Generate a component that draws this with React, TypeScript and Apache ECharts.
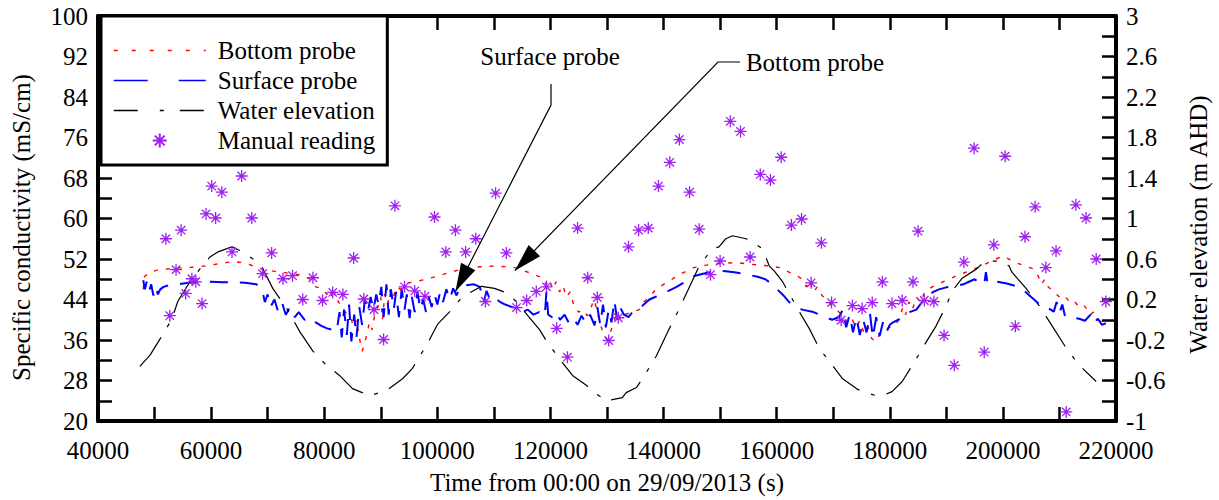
import React, { useEffect, useRef } from "react";
import * as echarts from "echarts";

const FONT = "Liberation Serif";

// Axis ranges / tick labelling
const xRange = [40000, 220000];
const xTickStep = 10000;
const xLabelStep = 20000;
const yLeftRange = [20, 100];
const yLeftTickStep = 4;
const yLeftLabelStep = 8;
const yRightRange = [-1, 3];
const yRightTickStep = 0.2;

const xTitle = "Time from 00:00 on 29/09/2013 (s)";
const yLeftTitle = "Specific conductivity (mS/cm)";
const yRightTitle = "Water elevation (m AHD)";

// [time (s), conductivity mS/cm]
const bottomProbe: [number, number][] = [
  [48000, 46.0], [48200, 48.5], [49000, 49.3], [50500, 49.8], [52000, 50.0], [54000, 50.2],
  [56000, 50.3], [58000, 50.5], [60000, 50.8], [62000, 51.2], [64000, 51.5], [66000, 51.2],
  [67500, 50.6], [69000, 50.0], [71000, 49.6], [73000, 49.3], [75000, 49.0], [76500, 48.6],
  [77500, 48.0], [78500, 46.5], [79500, 46.2], [80500, 45.0], [81000, 46.0], [81500, 44.0],
  [82000, 45.5], [82500, 43.5], [83200, 42.5], [84000, 41.0], [84700, 40.5], [85200, 38.5],
  [85700, 40.0], [86200, 36.5], [86700, 33.8], [87100, 35.0], [87500, 37.0], [88000, 39.5],
  [88500, 38.0], [89000, 41.5], [89500, 42.5], [90000, 44.5], [90300, 40.0], [90700, 45.0],
  [91200, 43.0], [91700, 46.0], [92200, 44.5], [92800, 46.5], [93500, 46.0], [94500, 47.2],
  [96000, 47.5], [98000, 48.0], [100000, 48.6], [102000, 49.3], [104000, 49.9], [106000, 50.3],
  [108000, 50.5], [110000, 50.6], [112000, 50.5], [113700, 50.3], [115500, 49.6], [117000, 49.0],
  [118500, 48.3], [119200, 47.0], [119800, 48.0], [120400, 46.0], [121000, 47.5], [121600, 45.5],
  [122200, 46.8], [122800, 44.5], [123500, 45.5], [124200, 42.5], [125000, 41.5], [125800, 42.0],
  [126500, 40.8], [127200, 42.5], [127700, 44.0], [128200, 42.0], [128700, 39.5], [129300, 37.5],
  [130000, 36.0], [130600, 37.5], [131200, 39.5], [131800, 41.5], [132400, 40.0], [133000, 41.0],
  [134500, 41.5], [135700, 42.0], [136500, 43.5], [137500, 44.5], [138500, 45.8], [140000, 47.0],
  [141500, 48.0], [143000, 49.0], [145000, 50.2], [147000, 50.7], [149000, 51.0], [151000, 51.2],
  [153000, 51.3], [155000, 51.0], [157000, 50.8], [159000, 50.6], [160500, 50.3], [162000, 49.5],
  [163500, 48.8], [164500, 48.0], [165200, 46.5], [165800, 47.8], [166500, 45.5], [167200, 46.5],
  [168000, 44.8], [168800, 44.0], [169500, 43.0], [170300, 42.5], [171000, 41.5], [171800, 40.8],
  [172500, 39.5], [173200, 40.5], [174000, 38.5], [174700, 39.8], [175400, 37.5], [176100, 38.8],
  [176800, 36.3], [177500, 35.7], [178200, 37.0], [179000, 38.0], [180000, 38.5], [181000, 38.9],
  [181800, 40.5], [182300, 42.5], [182800, 41.0], [183400, 43.5], [184000, 42.0], [184700, 44.5],
  [185400, 43.5], [186200, 45.5], [187500, 46.5], [189000, 47.3], [190500, 48.0], [192000, 48.8],
  [194000, 49.6], [196000, 50.5], [198000, 51.6], [200000, 52.6], [201000, 52.0], [202500, 51.2],
  [204000, 50.6], [205500, 50.0], [206300, 48.5], [206800, 47.0], [207400, 48.0], [208000, 46.5],
  [208700, 45.8], [209500, 45.0], [210300, 44.2], [211000, 44.6], [211800, 43.5], [212500, 43.8],
  [213300, 42.8], [214000, 43.2], [214800, 42.2], [215400, 41.0], [216000, 41.5], [216800, 40.0],
  [217500, 39.6],
];

const surfaceProbe: [number, number][] = [
  [48000, 47.8], [48300, 46.0], [48600, 47.5], [49000, 45.5], [49400, 47.0], [49800, 44.8],
  [50200, 46.5], [50600, 45.0], [51000, 46.0], [51600, 46.5], [52500, 46.8], [54000, 47.0],
  [56000, 47.3], [58000, 47.5], [60000, 47.5], [62000, 47.4], [64000, 47.4], [66000, 47.3],
  [68000, 47.0], [69000, 46.0], [69500, 43.5], [70000, 45.0], [70500, 42.5], [71200, 44.0],
  [71800, 41.8], [72500, 43.5], [73200, 41.0], [74000, 42.5], [74800, 40.5], [75500, 41.5],
  [76500, 40.0], [77500, 40.5], [78500, 39.5], [79500, 38.8], [80500, 38.3], [81500, 38.0],
  [82200, 37.7], [82700, 41.5], [83100, 36.5], [83500, 42.0], [84000, 37.0], [84400, 43.0],
  [84800, 35.7], [85300, 41.0], [85700, 36.5], [86200, 42.5], [86700, 39.0], [87200, 44.0],
  [87700, 41.5], [88200, 44.5], [88700, 42.0], [89200, 45.0], [89600, 43.0], [90100, 46.5],
  [90500, 40.5], [91000, 47.0], [91400, 41.0], [91800, 46.0], [92300, 42.0], [92700, 45.5],
  [93200, 40.5], [93700, 46.0], [94200, 42.0], [94600, 45.0], [95100, 40.3], [95500, 44.5],
  [96000, 41.5], [96500, 45.5], [97000, 42.0], [97500, 44.0], [98000, 41.5], [98500, 44.5],
  [99000, 42.5], [99500, 45.0], [100000, 43.0], [100500, 45.5], [101000, 43.5], [101600, 46.0],
  [102200, 44.0], [102800, 46.2], [103400, 44.8], [104000, 46.5], [105000, 46.8], [106500, 47.0],
  [107500, 46.5], [108200, 43.5], [108700, 45.7], [109300, 44.0], [110000, 44.5], [111000, 43.6],
  [112000, 43.0], [113000, 42.6], [114000, 42.2], [115000, 41.5], [116000, 42.0], [117000, 41.0],
  [118000, 41.5], [119000, 40.8], [119300, 45.7], [119600, 41.0], [120300, 40.5], [121000, 41.5],
  [121700, 40.0], [122500, 41.0], [123200, 39.5], [124000, 40.5], [124800, 39.0], [125500, 40.8],
  [126300, 39.3], [127000, 41.0], [127800, 38.9], [128300, 42.5], [128800, 39.0], [129300, 43.0],
  [129800, 38.5], [130300, 42.0], [130800, 39.5], [131300, 43.8], [131800, 40.0], [132300, 42.5],
  [133000, 41.0], [133800, 40.5], [134500, 41.5], [135500, 42.0], [136500, 43.0], [137500, 44.0],
  [138500, 44.5], [139300, 44.8], [140500, 45.5], [142300, 46.5], [143500, 47.3], [145000, 48.5],
  [147000, 49.1], [149300, 49.7], [151000, 49.6], [152500, 49.4], [154500, 49.0], [156600, 48.5],
  [158000, 48.0], [159000, 47.2], [160100, 46.0], [161200, 44.8], [162200, 43.5], [163500, 42.5],
  [164500, 42.0], [166300, 41.6], [168000, 40.8], [169800, 40.0], [171000, 40.5], [171700, 42.0],
  [172300, 38.5], [172900, 41.0], [173500, 37.5], [174100, 40.5], [174700, 37.0], [175300, 40.0],
  [175900, 37.5], [176500, 41.2], [177000, 36.5], [177600, 40.5], [178200, 36.8], [178800, 39.5],
  [179400, 37.5], [180000, 39.0], [180600, 39.5], [181500, 40.0], [182500, 40.5], [183500, 41.5],
  [184700, 42.0], [185700, 43.5], [186700, 44.8], [187700, 45.5], [188700, 46.0], [190000, 46.4],
  [191700, 46.7], [193000, 47.0], [194000, 47.5], [195000, 48.0], [196000, 47.2], [196700, 47.0],
  [197000, 49.4], [197300, 47.2], [198000, 47.3], [199000, 47.5], [200500, 47.2], [201800, 46.8],
  [202900, 46.5], [204000, 45.5], [205000, 44.5], [206000, 43.5], [207000, 42.6], [208000, 42.3],
  [209000, 41.6], [209500, 43.5], [210000, 41.3], [210500, 43.0], [211000, 40.6], [212000, 40.5],
  [213500, 40.2], [214500, 39.8], [215500, 41.0], [216000, 39.3], [216800, 40.2], [217500, 39.0],
  [218200, 39.3],
];

// [time (s), water elevation m AHD]
const waterElevation: [number, number][] = [
  [47400, -0.46], [49200, -0.35], [51300, -0.16], [53100, 0.01], [54100, 0.18], [56300, 0.38],
  [58000, 0.5], [59800, 0.62], [61200, 0.67], [63700, 0.72], [65600, 0.67], [67400, 0.6],
  [69000, 0.52], [70900, 0.31], [73400, 0.11], [75700, -0.12], [78000, -0.31], [80400, -0.45],
  [82700, -0.55], [85000, -0.68], [88000, -0.75], [91000, -0.7], [93900, -0.58], [95600, -0.48],
  [98100, -0.25], [100100, -0.04], [102200, 0.08], [104500, 0.23], [107800, 0.33], [110100, 0.31],
  [112000, 0.27], [114000, 0.18], [116000, 0.04], [118100, -0.1], [119300, -0.21], [121500, -0.38],
  [123900, -0.55], [126400, -0.65], [127800, -0.72], [129900, -0.8], [132700, -0.77], [133400, -0.72],
  [135200, -0.67], [136300, -0.58], [138700, -0.36], [141000, -0.09], [142800, 0.11], [144200, 0.28],
  [146300, 0.53], [148600, 0.7], [149800, 0.72], [151000, 0.8], [152200, 0.83], [154600, 0.8],
  [155700, 0.77], [157500, 0.7], [158700, 0.53], [159600, 0.48], [161000, 0.38], [164000, 0.08],
  [165800, -0.09], [167500, -0.28], [169300, -0.41], [171600, -0.58], [174100, -0.68], [175100, -0.71],
  [177600, -0.75], [178700, -0.75], [180400, -0.71], [182200, -0.61], [184000, -0.45], [186100, -0.25],
  [188200, -0.06], [190000, 0.14], [191000, 0.28], [192800, 0.41], [195300, 0.5], [196300, 0.55],
  [198100, 0.58], [199500, 0.58], [201100, 0.53], [201600, 0.47], [204100, 0.31], [206400, 0.14],
  [208700, -0.06], [211200, -0.28], [213500, -0.45], [216500, -0.61],
];

// [time (s), conductivity mS/cm]
const manualReading: [number, number][] = [
  [52000, 56.0], [52700, 40.8], [53800, 49.9], [54700, 57.7], [55500, 45.2], [56600, 48.1],
  [57300, 47.5], [58400, 43.2], [59100, 60.9], [60100, 66.4], [60800, 60.1], [61900, 65.2],
  [63700, 53.4], [65400, 68.4], [67200, 60.1], [69100, 49.1], [70700, 53.2], [72700, 48.1],
  [74400, 48.7], [76200, 44.0], [78000, 48.3], [79700, 43.8], [81500, 45.4], [83300, 45.0],
  [85200, 52.2], [87000, 44.1], [88800, 42.0], [90500, 36.1], [92500, 62.5], [94200, 46.5],
  [96000, 45.7], [97800, 44.6], [99500, 60.3], [101500, 53.4], [103200, 57.7], [105000, 53.4],
  [106800, 56.0], [108500, 43.6], [110300, 65.0], [112200, 53.2], [114000, 42.4], [115800, 43.8],
  [117500, 45.6], [119300, 46.5], [121100, 38.3], [123000, 32.6], [124800, 58.1], [126600, 48.3],
  [128300, 44.4], [130300, 35.9], [132000, 40.4], [133800, 54.4], [135600, 57.7], [137300, 58.1],
  [139100, 66.4], [141100, 71.1], [142800, 75.6], [144600, 65.2], [146300, 57.9], [148300, 48.9],
  [150000, 51.6], [151800, 79.2], [153600, 77.2], [155300, 52.4], [157100, 68.7], [158900, 67.6],
  [160800, 72.1], [162600, 58.7], [164400, 59.9], [166100, 47.3], [167900, 55.2], [169700, 43.4],
  [171400, 39.9], [173400, 42.8], [175100, 42.2], [176900, 43.4], [178700, 47.5], [180400, 43.2],
  [182200, 43.8], [184100, 47.5], [185000, 57.5], [186100, 43.8], [187800, 43.6], [189600, 36.9],
  [191400, 31.0], [193100, 51.4], [194900, 73.9], [196700, 33.6], [198400, 54.8], [200400, 72.3],
  [202200, 38.7], [203900, 56.4], [205700, 62.3], [207600, 50.3], [209400, 53.6], [211200, 21.8],
  [212900, 62.7], [214700, 60.1], [216500, 52.0], [218200, 43.6],
];

// Callout labels pointing at data locations [time, conductivity]
const calloutLabels = ["Surface probe", "Bottom probe"];
const calloutTips: [number, number][] = [
  [103200, 45.6],
  [113700, 49.7],
];

const STAR = "path://M5,0L5,10M0,5L10,5M1.5,1.5L8.5,8.5M1.5,8.5L8.5,1.5";

function arrowHead(from: number[], tip: number[], len = 28, half = 8) {
  const dx = tip[0] - from[0];
  const dy = tip[1] - from[1];
  const L = Math.hypot(dx, dy);
  const ux = dx / L;
  const uy = dy / L;
  const bx = tip[0] - ux * len;
  const by = tip[1] - uy * len;
  const px = -uy * half;
  const py = ux * half;
  return [
    [tip[0], tip[1]],
    [bx + px, by + py],
    [bx - px, by - py],
  ];
}

export default function App() {
  const ref = useRef<HTMLDivElement>(null);

  useEffect(() => {
    if (!ref.current) return;
    const chart = echarts.init(ref.current, null, { renderer: "svg" });

    const labelStyle = { color: "#000", fontSize: 25, fontFamily: FONT };
    const axisLine = { show: true, onZero: false, lineStyle: { color: "#000", width: 4 } };
    const axisTick = { show: true, inside: true, length: 14, lineStyle: { color: "#000", width: 2.5 } };
    const hiddenIcon = { color: "rgba(0,0,0,0)", borderWidth: 0, opacity: 0 };

    const xAxisBase = {
      type: "value",
      min: xRange[0],
      max: xRange[1],
      interval: xTickStep,
      axisLine,
      axisTick,
      splitLine: { show: false },
    };

    chart.setOption({
      animation: false,
      backgroundColor: "#fff",
      textStyle: { fontFamily: FONT },
      grid: { left: 98, right: 102, top: 16, bottom: 77, containLabel: false },
      legend: {
        orient: "vertical",
        left: 101,
        top: 16,
        itemWidth: 92,
        itemHeight: 14,
        itemGap: 5,
        padding: [22, 12, 12, 12],
        borderColor: "#000",
        borderWidth: 3,
        backgroundColor: "#fff",
        selectedMode: false,
        textStyle: { ...labelStyle, lineHeight: 25, padding: [0, 0, 0, 7] },
        data: [
          {
            name: "Bottom probe",
            itemStyle: hiddenIcon,
            lineStyle: { type: [4, 14], width: 1.5, color: "#ff0000" },
          },
          {
            name: "Surface probe",
            itemStyle: hiddenIcon,
            lineStyle: { type: [34, 31], width: 1.5, color: "#0000ff" },
          },
          {
            name: "Water elevation",
            itemStyle: hiddenIcon,
            lineStyle: { type: [24, 22, 4, 16], width: 1.3, color: "#000" },
          },
          { name: "Manual reading" },
        ],
      },
      xAxis: [
        {
          ...xAxisBase,
          position: "bottom",
          axisLabel: {
            ...labelStyle,
            margin: 17,
            formatter: (v: number) => ((v - xRange[0]) % xLabelStep === 0 ? String(v) : ""),
          },
          name: xTitle,
          nameLocation: "middle",
          nameGap: 49,
          nameTextStyle: labelStyle,
        },
        {
          ...xAxisBase,
          position: "top",
          axisLabel: { show: false },
        },
      ],
      yAxis: [
        {
          type: "value",
          position: "left",
          min: yLeftRange[0],
          max: yLeftRange[1],
          interval: yLeftTickStep,
          axisLine,
          axisTick,
          splitLine: { show: false },
          axisLabel: {
            ...labelStyle,
            margin: 10,
            padding: [6, 0, 0, 0],
            formatter: (v: number) =>
              Math.round(v - yLeftRange[0]) % yLeftLabelStep === 0 ? String(Math.round(v)) : "",
          },
          name: yLeftTitle,
          nameLocation: "middle",
          nameRotate: 90,
          nameGap: 64,
          nameTextStyle: { ...labelStyle, padding: [0, 18, 0, 0] },
        },
        {
          type: "value",
          position: "right",
          min: yRightRange[0],
          max: yRightRange[1],
          interval: yRightTickStep,
          axisLine,
          axisTick,
          splitLine: { show: false },
          axisLabel: {
            ...labelStyle,
            margin: 10,
            padding: [6, 0, 0, 0],
            formatter: (v: number) => {
              const k = Math.round((v - yRightRange[0]) / yRightTickStep);
              return k % 2 === 0 ? String(parseFloat(v.toFixed(2))) : "";
            },
          },
          name: yRightTitle,
          nameLocation: "middle",
          nameRotate: 90,
          nameGap: 70,
          nameTextStyle: { ...labelStyle, padding: [0, 12, 0, 0] },
        },
      ],
      series: [
        {
          type: "line",
          name: "Bottom probe",
          data: bottomProbe,
          yAxisIndex: 0,
          symbol: "none",
          itemStyle: { color: "#ff0000" },
          lineStyle: { color: "#ff0000", width: 1.4, type: [4, 8] },
          z: 2,
        },
        {
          type: "line",
          name: "Surface probe",
          data: surfaceProbe,
          yAxisIndex: 0,
          symbol: "none",
          itemStyle: { color: "#0000ff" },
          lineStyle: { color: "#0000ff", width: 2.0, type: [18, 12] },
          z: 3,
        },
        {
          type: "line",
          name: "Water elevation",
          data: waterElevation,
          yAxisIndex: 1,
          symbol: "none",
          itemStyle: { color: "#000" },
          lineStyle: { color: "#000", width: 1.2, type: [36, 12, 4, 12] },
          z: 4,
        },
        {
          type: "scatter",
          name: "Manual reading",
          data: manualReading,
          yAxisIndex: 0,
          symbol: STAR,
          symbolSize: 12,
          itemStyle: { color: "rgba(0,0,0,0)", borderColor: "#a020f0", borderWidth: 1.3, opacity: 1 },
          z: 5,
        },
      ],
    });

    const toPx = (p: [number, number]) =>
      chart.convertToPixel({ xAxisIndex: 0, yAxisIndex: 0 }, p) as number[];

    const surfaceTip = toPx(calloutTips[0]);
    const bottomTip = toPx(calloutTips[1]);

    const surfacePath = [[551, 84], [551, 105], surfaceTip];
    const bottomPath = [[740, 62], [718, 62], bottomTip];

    const textStyle = {
      fontSize: 25,
      fontFamily: FONT,
      fill: "#000",
      textAlign: "center",
      textVerticalAlign: "middle",
    };

    chart.setOption({
      graphic: [
        { type: "text", x: 550, y: 56, z: 100, style: { ...textStyle, text: calloutLabels[0] } },
        { type: "text", x: 815, y: 62, z: 100, style: { ...textStyle, text: calloutLabels[1] } },
        {
          type: "polyline",
          z: 100,
          shape: { points: surfacePath },
          style: { stroke: "#000", lineWidth: 1.2, fill: null },
        },
        {
          type: "polyline",
          z: 100,
          shape: { points: bottomPath },
          style: { stroke: "#000", lineWidth: 1.2, fill: null },
        },
        {
          type: "polygon",
          z: 100,
          shape: { points: arrowHead(surfacePath[1], surfaceTip) },
          style: { fill: "#000" },
        },
        {
          type: "polygon",
          z: 100,
          shape: { points: arrowHead(bottomPath[1], bottomTip) },
          style: { fill: "#000" },
        },
      ],
    });

    return () => chart.dispose();
  }, []);

  return (
    <div
      ref={ref}
      style={{ position: "absolute", left: 0, top: 0, width: 1219, height: 500, background: "#fff" }}
    />
  );
}
